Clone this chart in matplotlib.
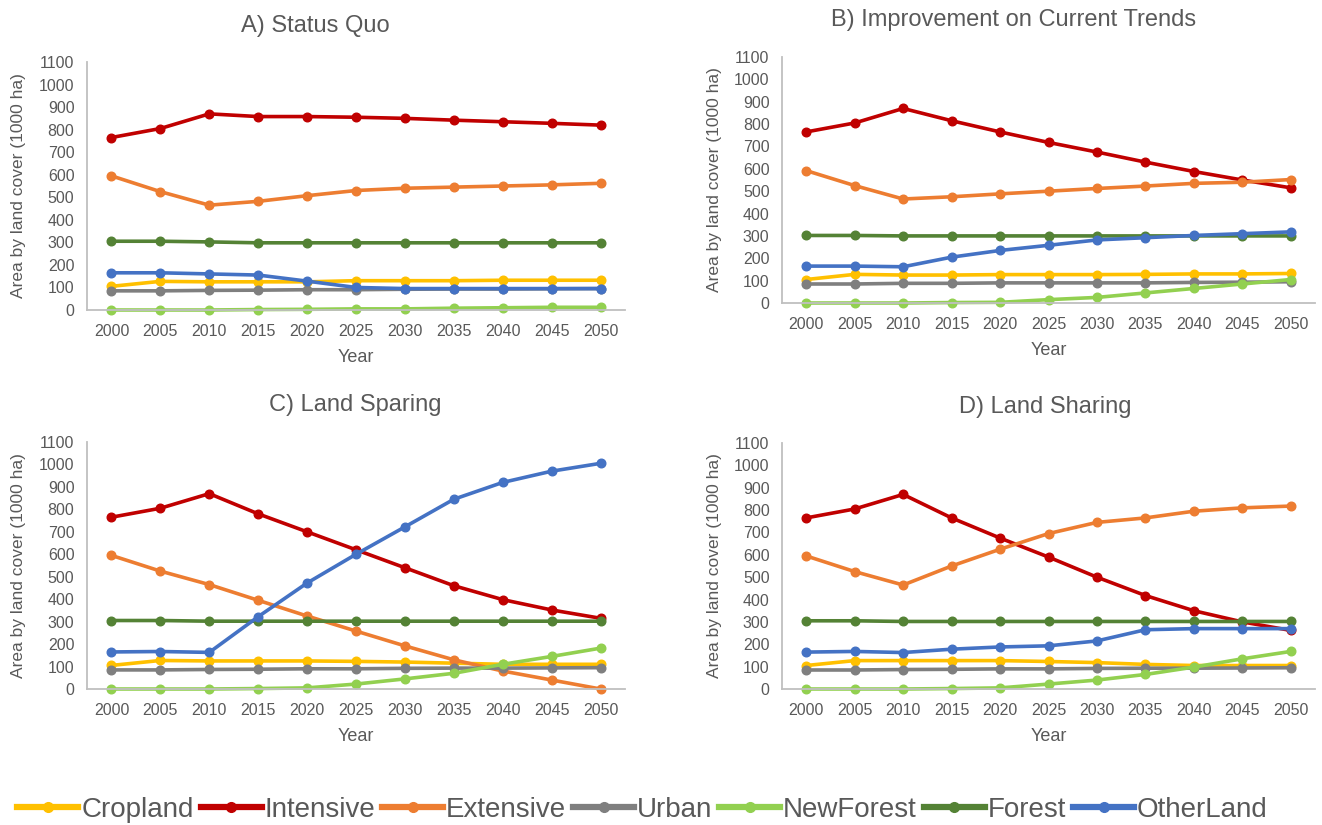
import matplotlib
matplotlib.use('Agg')
import matplotlib.pyplot as plt
from matplotlib.lines import Line2D

plt.rcParams['font.family'] = ['Liberation Sans', 'DejaVu Sans']

years = ['2000', '2005', '2010', '2015', '2020', '2025', '2030', '2035', '2040', '2045', '2050']
series_names = ['Cropland', 'Intensive', 'Extensive', 'Urban', 'NewForest', 'Forest', 'OtherLand']
series_colors = ['#FFC000', '#C00000', '#ED7D31', '#7F7F7F', '#92D050', '#548235', '#4472C4']

# A) Status Quo
status_quo = {
    'Cropland':  [105, 127, 125, 125, 125, 130, 130, 130, 132, 132, 132],
    'Intensive': [765, 805, 870, 858, 858, 855, 850, 842, 835, 828, 820],
    'Extensive': [595, 525, 465, 482, 507, 530, 540, 545, 550, 555, 562],
    'Urban':     [85, 85, 87, 88, 90, 90, 92, 93, 93, 94, 95],
    'NewForest': [0, 0, 0, 2, 3, 5, 5, 8, 10, 12, 12],
    'Forest':    [305, 305, 302, 298, 298, 298, 298, 298, 298, 298, 298],
    'OtherLand': [165, 165, 160, 155, 128, 100, 95, 95, 95, 95, 95],
}

# B) Improvement on Current Trends
improvement = {
    'Cropland':  [105, 128, 125, 125, 127, 127, 127, 128, 130, 130, 132],
    'Intensive': [765, 805, 870, 815, 765, 718, 675, 630, 588, 550, 515],
    'Extensive': [592, 525, 465, 475, 488, 500, 512, 523, 535, 540, 552],
    'Urban':     [85, 85, 88, 88, 90, 90, 90, 90, 92, 93, 95],
    'NewForest': [0, 0, 0, 2, 3, 15, 25, 45, 65, 85, 105],
    'Forest':    [302, 302, 300, 300, 300, 300, 300, 300, 300, 300, 300],
    'OtherLand': [165, 165, 162, 205, 235, 258, 282, 292, 302, 310, 318],
}

# C) Land Sparing
sparing = {
    'Cropland':  [105, 127, 125, 125, 125, 123, 120, 115, 110, 110, 110],
    'Intensive': [765, 805, 870, 780, 700, 620, 540, 460, 398, 352, 315],
    'Extensive': [595, 525, 465, 395, 325, 258, 192, 130, 80, 40, 0],
    'Urban':     [85, 85, 87, 88, 90, 90, 92, 93, 93, 94, 95],
    'NewForest': [0, 0, 0, 2, 5, 22, 45, 70, 110, 145, 182],
    'Forest':    [305, 305, 302, 302, 302, 302, 302, 302, 302, 302, 302],
    'OtherLand': [165, 167, 163, 322, 472, 600, 722, 845, 920, 970, 1005],
}

# D) Land Sharing
sharing = {
    'Cropland':  [105, 127, 127, 127, 127, 123, 118, 110, 105, 105, 105],
    'Intensive': [765, 805, 870, 765, 675, 590, 500, 418, 350, 300, 262],
    'Extensive': [595, 525, 465, 550, 625, 695, 745, 765, 795, 810, 818],
    'Urban':     [85, 85, 87, 88, 90, 90, 92, 93, 93, 94, 95],
    'NewForest': [0, 0, 0, 2, 5, 22, 40, 65, 98, 135, 168],
    'Forest':    [305, 305, 302, 302, 302, 302, 302, 302, 302, 302, 302],
    'OtherLand': [165, 168, 163, 178, 188, 193, 215, 265, 270, 270, 270],
}

W, H = 1322, 825

# (title, data, axes box in pixels: left, right, bottom, top, title centre x, title centre y)
panels = [
    ('A) Status Quo', status_quo, (87, 625, 310, 62, 315, 26)),
    ('B) Improvement on Current Trends', improvement, (782, 1315, 303, 57, 1014, 20)),
    ('C) Land Sparing', sparing, (87, 625, 689, 442, 355, 405)),
    ('D) Land Sharing', sharing, (782, 1315, 689, 443, 1045, 407)),
]

TEXT = '#595959'
AXIS = '#BFBFBF'


def draw_panel(ax, data):
    x = range(len(years))
    for name, color in zip(series_names, series_colors):
        ax.plot(x, data[name], color=color, linewidth=2.6, marker='o',
                markersize=6.2, solid_capstyle='round', clip_on=False)
    ax.set_xlim(-0.5, len(years) - 0.5)
    ax.set_ylim(0, 1100)
    ax.set_yticks(range(0, 1101, 100))
    ax.set_xticks(list(x))
    ax.set_xticklabels(years)
    ax.tick_params(length=0, labelsize=11.5, labelcolor=TEXT)
    ax.tick_params(axis='y', pad=9)
    ax.tick_params(axis='x', pad=10)
    for side in ['top', 'right']:
        ax.spines[side].set_visible(False)
    for side in ['left', 'bottom']:
        ax.spines[side].set_color(AXIS)
        ax.spines[side].set_linewidth(1.3)
    ax.set_xlabel('Year', fontsize=13, color=TEXT, labelpad=7)
    ax.set_ylabel('Area by land cover (1000 ha)', fontsize=12.5, color=TEXT, labelpad=9)


fig = plt.figure(figsize=(W / 100, H / 100), dpi=100)
for title, data, (l, r, b, t, tx, ty) in panels:
    ax = fig.add_axes([l / W, 1 - b / H, (r - l) / W, (b - t) / H])
    draw_panel(ax, data)
    fig.text(tx / W, 1 - ty / H, title, fontsize=17, color=TEXT,
             ha='center', va='center')

handles = [Line2D([], [], color=c, linewidth=4.5, marker='o', markersize=7)
           for c in series_colors]
leg = fig.legend(handles, series_names, loc='center', bbox_to_anchor=(0.486, 0.018),
                 ncol=7, frameon=False, handlelength=2.2, handletextpad=0.1,
                 columnspacing=0.25, numpoints=1, borderpad=0, borderaxespad=0,
                 prop={'size': 20})
for txt in leg.get_texts():
    txt.set_color(TEXT)

fig.savefig('out.png', dpi=100)
